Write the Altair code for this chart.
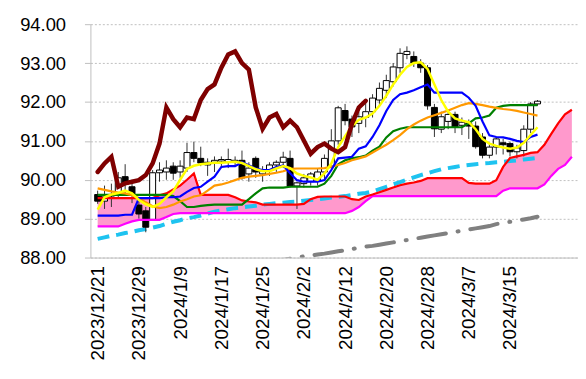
import altair as alt
import pandas as pd

dates = ["2023/12/21","2023/12/22","2023/12/25","2023/12/26","2023/12/27","2023/12/28","2023/12/29",
         "2024/1/2","2024/1/3","2024/1/4","2024/1/5","2024/1/8","2024/1/9","2024/1/10","2024/1/11","2024/1/12",
         "2024/1/15","2024/1/16","2024/1/17","2024/1/18","2024/1/19","2024/1/22","2024/1/23","2024/1/24","2024/1/25",
         "2024/1/26","2024/1/29","2024/1/30","2024/1/31","2024/2/1","2024/2/2","2024/2/5","2024/2/6","2024/2/7",
         "2024/2/8","2024/2/9","2024/2/12","2024/2/13","2024/2/14","2024/2/15","2024/2/16","2024/2/19","2024/2/20",
         "2024/2/21","2024/2/22","2024/2/23","2024/2/26","2024/2/27","2024/2/28","2024/2/29","2024/3/1","2024/3/4",
         "2024/3/5","2024/3/6","2024/3/7","2024/3/8","2024/3/11","2024/3/12","2024/3/13","2024/3/14","2024/3/15",
         "2024/3/18","2024/3/19","2024/3/20","2024/3/21","2024/3/22","2024/3/25","2024/3/26","2024/3/27","2024/3/28"]

opens = [89.62, 89.45, 89.58, 89.62, 90.08, 89.82, 89.35, 89.20, 88.98, 90.18,
         90.20, 90.35, 90.20, 90.30, 90.70, 90.55, 90.38, 90.45, 90.48, 90.45,
         90.45, 90.50, 90.15, 90.55, 90.15, 90.25, 90.38, 90.45, 90.55, 89.84,
         89.90, 89.95, 90.00, 90.20, 90.35, 91.00, 91.78, 91.56, 91.45, 91.60,
         91.75, 92.05, 92.30, 92.52, 92.88, 93.22, 93.17, 93.00, 92.88, 91.86,
         91.30, 91.50, 91.68, 91.40, 91.45, 91.38, 91.10, 90.63, 90.84, 90.95,
         90.93, 90.72, 90.75, 91.30, 91.95]
highs = [89.72, 89.85, 89.90, 90.20, 90.40, 90.00, 89.50, 89.30, 90.25, 90.45,
         90.50, 90.45, 90.50, 90.95, 90.98, 90.85, 90.55, 90.60, 90.60, 90.80,
         90.60, 90.75, 90.45, 90.60, 90.35, 90.45, 90.50, 90.72, 90.75, 89.95,
         90.15, 90.20, 90.30, 90.65, 91.30, 91.90, 91.95, 91.65, 91.75, 92.00,
         92.20, 92.50, 92.70, 93.00, 93.38, 93.43, 93.30, 93.10, 92.95, 91.95,
         91.75, 91.80, 91.75, 91.60, 91.55, 91.50, 91.20, 90.95, 91.10, 91.05,
         90.98, 90.90, 91.40, 92.00, 92.05]
lows = [89.38, 89.25, 89.30, 89.55, 89.60, 89.40, 89.00, 88.65, 88.95, 89.95,
        90.00, 90.00, 90.05, 90.20, 90.45, 90.35, 90.10, 90.20, 90.30, 90.30,
        90.35, 90.00, 89.95, 90.05, 89.95, 90.10, 90.20, 90.30, 89.80, 89.25,
        89.80, 89.85, 89.85, 90.00, 90.30, 90.90, 91.40, 91.10, 91.20, 91.35,
        91.60, 91.90, 92.10, 92.40, 92.75, 93.10, 92.90, 92.75, 91.80, 91.10,
        91.20, 91.30, 91.20, 91.15, 91.05, 90.80, 90.55, 90.55, 90.65, 90.65,
        90.60, 90.55, 90.60, 91.20, 91.90]
closes = [89.45, 89.58, 89.62, 90.05, 89.88, 89.62, 89.12, 88.78, 90.18, 90.25,
          90.30, 90.17, 90.35, 90.70, 90.55, 90.43, 90.45, 90.50, 90.52, 90.52,
          90.50, 90.05, 90.30, 90.20, 90.22, 90.38, 90.45, 90.58, 89.84, 89.92,
          90.05, 90.15, 90.20, 90.55, 91.00, 91.85, 91.52, 91.36, 91.62, 91.75,
          92.10, 92.35, 92.55, 92.90, 93.25, 93.30, 93.00, 92.88, 91.90, 91.31,
          91.62, 91.68, 91.35, 91.48, 91.38, 90.85, 90.63, 90.84, 91.05, 90.90,
          90.72, 90.82, 91.30, 91.95, 92.02]

conversion_line = [89.08, 89.08, 89.08, 89.08, 89.10, 89.10, 89.53, 89.53, 89.53, 89.53,
                   89.55, 89.55, 89.57, 89.69, 89.79, 89.82, 89.95, 90.08, 90.33, 90.35,
                   90.35, 90.45, 90.37, 90.29, 90.25, 90.25, 90.33, 90.37, 90.17, 89.99,
                   89.95, 89.95, 89.95, 89.99, 90.25, 90.55, 90.57, 90.59, 90.80, 90.86,
                   91.10, 91.40, 91.77, 92.05, 92.20, 92.24, 92.30, 92.38, 92.45, 92.24,
                   92.24, 92.24, 92.24, 92.24, 92.11, 91.90, 91.50, 91.14, 91.10, 91.09,
                   91.05, 91.00, 90.97, 91.10, 91.16]
base_line = [89.61, 89.61, 89.61, 89.61, 89.61, 89.61, 89.61, 89.61, 89.61, 89.61,
             89.61, 89.58, 89.45, 89.30, 89.30, 89.33, 89.35, 89.36, 89.36, 89.36,
             89.36, 89.36, 89.50, 89.65, 89.78, 89.80, 89.80, 89.80, 89.82, 89.82,
             89.82, 89.82, 89.82, 89.90, 90.10, 90.40, 90.50, 90.55, 90.58, 90.62,
             90.75, 90.85, 91.09, 91.25, 91.31, 91.35, 91.35, 91.35, 91.35, 91.35,
             91.35, 91.35, 91.35, 91.35, 91.45, 91.58, 91.60, 91.65, 91.85, 91.90,
             91.92, 91.92, 91.92, 91.92, 91.92]
span_a = [89.53, 89.53, 89.53, 89.53, 89.53, 89.53, 89.53, 89.53, 89.53, 89.60,
          89.65, 89.75, 89.85, 90.00, 90.16, 89.61, 89.61, 89.61, 89.61, 89.61,
          89.55, 89.47, 89.44, 89.42, 89.36, 89.36, 89.36, 89.36, 89.36, 89.36,
          89.38, 89.50, 89.56, 89.57, 89.57, 89.57, 89.57, 89.50, 89.48, 89.57,
          89.62, 89.68, 89.74, 89.80, 89.86, 89.90, 89.93, 89.97, 90.04, 90.04,
          90.04, 90.04, 90.04, 90.04, 89.92, 89.90, 89.90, 89.90, 89.99, 90.33,
          90.56, 90.60, 90.64, 90.69, 90.71, 90.90, 91.18, 91.45, 91.68, 91.80]
span_b = [88.80, 88.80, 88.80, 88.80, 88.87, 88.93, 88.97, 88.97, 88.97, 88.97,
          89.04, 89.12, 89.14, 89.14, 89.14, 89.14, 89.14, 89.14, 89.14, 89.14,
          89.14, 89.14, 89.14, 89.14, 89.14, 89.14, 89.14, 89.14, 89.14, 89.14,
          89.14, 89.14, 89.14, 89.14, 89.14, 89.14, 89.14, 89.20, 89.30, 89.45,
          89.58, 89.58, 89.58, 89.58, 89.58, 89.58, 89.58, 89.58, 89.58, 89.58,
          89.58, 89.58, 89.58, 89.58, 89.58, 89.58, 89.58, 89.58, 89.58, 89.72,
          89.78, 89.78, 89.78, 89.78, 89.78, 89.88, 90.10, 90.28, 90.38, 90.59]
lagging_span = [90.20, 90.42, 90.59, 89.82, 89.91, 89.95, 89.99, 90.12, 90.42, 90.93,
                91.86, 91.56, 91.35, 91.60, 91.56, 92.05, 92.33, 92.45, 92.88, 93.22,
                93.30, 93.00, 92.83, 91.86, 91.31, 91.60, 91.69, 91.35, 91.52, 91.35,
                91.01, 90.67, 90.84, 90.93, 90.80, 90.71, 90.84, 91.44, 91.86, 92.03]
ma_short = [89.23, 89.55, 89.62, 89.66, 89.72, 89.65, 89.48, 89.37, 89.30, 89.38,
            89.55, 89.70, 90.00, 90.28, 90.36, 90.40, 90.42, 90.44, 90.44, 90.45,
            90.46, 90.43, 90.35, 90.27, 90.22, 90.22, 90.29, 90.35, 90.30, 90.16,
            90.10, 90.06, 90.00, 90.16, 90.42, 90.84, 91.12, 91.38, 91.54, 91.60,
            91.70, 91.90, 92.16, 92.45, 92.70, 92.90, 93.00, 93.02, 92.85, 92.45,
            92.05, 91.75, 91.58, 91.52, 91.48, 91.30, 91.05, 90.93, 90.87, 90.83,
            90.80, 90.83, 90.95, 91.15, 91.35]
ma_mid = [89.78, 89.74, 89.70, 89.67, 89.65, 89.60, 89.53, 89.42, 89.32, 89.27,
          89.30, 89.36, 89.44, 89.50, 89.57, 89.60, 89.72, 89.85, 89.88, 89.93,
          89.99, 90.05, 90.08, 90.10, 90.12, 90.15, 90.18, 90.22, 90.28, 90.29,
          90.29, 90.29, 90.29, 90.30, 90.33, 90.38, 90.43, 90.50, 90.55, 90.60,
          90.70, 90.80, 90.90, 91.02, 91.15, 91.30, 91.42, 91.52, 91.60, 91.66,
          91.72, 91.78, 91.85, 91.92, 91.97, 91.95, 91.92, 91.88, 91.85, 91.82,
          91.80, 91.77, 91.73, 91.69, 91.65]
ma_long = [88.48, 88.52, 88.56, 88.59, 88.63, 88.66, 88.70, 88.73, 88.77, 88.81,
           88.87, 88.92, 88.96, 89.01, 89.04, 89.08, 89.13, 89.18, 89.21, 89.24,
           89.27, 89.29, 89.31, 89.33, 89.36, 89.38, 89.40, 89.41, 89.43, 89.44,
           89.46, 89.48, 89.50, 89.52, 89.54, 89.56, 89.58, 89.61, 89.64, 89.66,
           89.70, 89.76, 89.82, 89.88, 89.94, 90.00, 90.06, 90.12, 90.17, 90.22,
           90.27, 90.30, 90.33, 90.36, 90.38, 90.40, 90.42, 90.43, 90.45, 90.46,
           90.48, 90.50, 90.52, 90.54, 90.56]
ma_very_long_start = 24
ma_very_long = [87.85, 87.88, 87.91, 87.94, 87.97, 88.00, 88.03, 88.05, 88.08, 88.10,
                88.13, 88.16, 88.19, 88.22, 88.25, 88.28, 88.30, 88.33, 88.36, 88.39,
                88.42, 88.45, 88.48, 88.51, 88.54, 88.57, 88.60, 88.63, 88.66, 88.69,
                88.72, 88.75, 88.78, 88.81, 88.86, 88.89, 88.92, 88.95, 88.98, 89.01, 89.05]
y_ticks = [88, 89, 90, 91, 92, 93, 94]
label_step = 6

FONT = "Liberation Sans"
tick_idx = list(range(0, 61, label_step))
label_js = "[" + ",".join("'%s'" % dates[i] for i in tick_idx) + "]"

xscale = alt.Scale(domain=[-0.33, 69.17], nice=False, zero=False)
yscale = alt.Scale(domain=[88, 94], nice=False, zero=False)
xaxis = alt.Axis(values=tick_idx, labelExpr=label_js + "[round(datum.value/" + str(label_step) + ")]",
                 labelAngle=270, ticks=False, grid=False, domainColor="#BFBFBF",
                 labelFontSize=19, labelColor="black", labelFont=FONT, labelPadding=8,
                 labelOverlap=False, labelBound=False, title=None)
yaxis = alt.Axis(values=y_ticks, format=".2f", tickSize=6, tickColor="#BFBFBF",
                 domainColor="#BFBFBF", gridColor="#BFBFBF", gridDash=[2, 2],
                 labelFontSize=18.5, labelColor="black", labelFont=FONT, labelPadding=19,
                 title=None)

X = alt.X("idx:Q", scale=xscale, axis=xaxis)


def Y(field):
    return alt.Y(field + ":Q", scale=yscale, axis=yaxis)


n = len(closes)
cdf = pd.DataFrame({"idx": list(range(n)), "open": opens, "high": highs, "low": lows, "close": closes})
cdf["blo"] = cdf[["open", "close"]].min(axis=1)
cdf["bhi"] = cdf[["open", "close"]].max(axis=1)
cdf["fillc"] = ["white" if c >= o else "black" for o, c in zip(opens, closes)]

cloud = pd.DataFrame({"idx": list(range(len(span_a))), "a": span_a, "b": span_b})


def line(values, start, color, width, dash=None, cap="butt"):
    df = pd.DataFrame({"idx": list(range(start, start + len(values))), "v": values})
    kw = dict(color=color, strokeWidth=width, clip=True, strokeCap=cap)
    if dash:
        kw["strokeDash"] = dash
    return alt.Chart(df).mark_line(**kw).encode(x=X, y=Y("v"))


area = alt.Chart(cloud).mark_area(color="#FF99CC", opacity=1, clip=True).encode(
    x=X, y=Y("a"), y2="b")
wicks = alt.Chart(cdf).mark_rule(color="#333333", strokeWidth=1, clip=True).encode(
    x=X, y=Y("low"), y2="high")
bodies = alt.Chart(cdf).mark_bar(size=6, stroke="black", strokeWidth=1, clip=True).encode(
    x=X, y=Y("blo"), y2="bhi", fill=alt.Fill("fillc:N", scale=None))

chart = alt.layer(
    area,
    line(ma_very_long, ma_very_long_start, "#808080", 4, [28, 12, 1, 12], "round"),
    line(ma_long, 0, "#1EC3F0", 4, [12, 7]),
    wicks,
    bodies,
    line(span_b, 0, "#FF00FF", 2.2),
    line(span_a, 0, "#FF0000", 2.2),
    line(base_line, 0, "#008000", 2.2),
    line(ma_mid, 0, "#FF9900", 2.2),
    line(conversion_line, 0, "#0000FF", 2.2),
    line(ma_short, 0, "#FFFF00", 2.5),
    line(lagging_span, 0, "#7F0000", 4.5, None, "round"),
).properties(
    width=491, height=235,
    padding={"left": 83, "top": 15, "right": 0, "bottom": 120},
    autosize=alt.AutoSizeParams(type="none"),
    background="white",
).configure_view(strokeWidth=0)

chart.save("out.html", embed_options={"renderer": "svg", "actions": False})
